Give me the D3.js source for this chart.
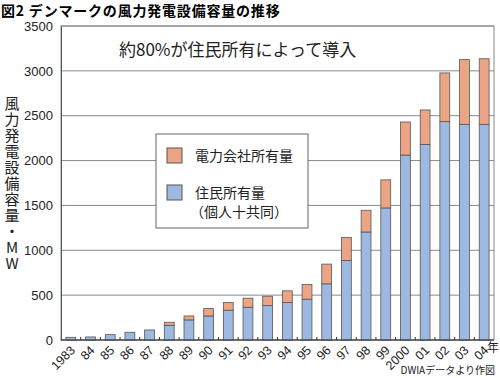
<!DOCTYPE html>
<html>
<head>
<meta charset="utf-8">
<title>デンマークの風力発電設備容量の推移</title>
<script src="https://d3js.org/d3.v7.min.js"></script>
<style>
  body { margin: 0; background: #fff; }
  text { font-family: "Liberation Sans", Arial, sans-serif; }
  .jp { font-family: "Noto Sans CJK JP", sans-serif; }
</style>
</head>
<body>
<div id="chart"></div>
<script>

// years and tick labels
const years = ["1983","84","85","86","87","88","89","90","91","92","93","94","95","96","97","98","99","2000","01","02","03","04"];
// citizen owned (individuals + cooperatives), MW
const citizen = [30,34,60,86,112,164,224,268,332,365,384,417,455,626,887,1204,1472,2061,2180,2434,2404,2404];
// total capacity, MW (utility share = total - citizen)
const total = [30,34,60,86,112,198,268,350,417,466,488,548,619,846,1144,1446,1785,2430,2564,2977,3125,3135];
const utility = total.map((t, i) => t - citizen[i]);
const yTicks = [0,500,1000,1500,2000,2500,3000,3500];

const colours = { citizen: "#9db9e1", utility: "#eba584" };

const W = 500, H = 378;
const margin = {top: 26, right: 6, bottom: 38, left: 61};
const width = W - margin.left - margin.right,
      height = H - margin.top - margin.bottom;

const svg = d3.select("#chart").append("svg")
  .attr("width", W).attr("height", H);

// title
svg.append("text").attr("class", "jp")
  .attr("x", 1).attr("y", 16)
  .attr("font-size", 14).attr("font-weight", "bold")
  .attr("letter-spacing", 0.8)
  .text("図2 デンマークの風力発電設備容量の推移");

const g = svg.append("g")
  .attr("transform", "translate(" + margin.left + "," + margin.top + ")");

const x = d3.scaleBand().domain(years).range([0, width]).paddingInner(0.5).paddingOuter(0.25);
const y = d3.scaleLinear().domain([0, 3500]).range([height, 0]);

// gridlines
g.selectAll(".grid").data(yTicks).enter().append("line")
  .attr("x1", 0).attr("x2", width)
  .attr("y1", d => y(d)).attr("y2", d => y(d))
  .attr("stroke", "#8a8a8a").attr("stroke-width", 1);

// frame
g.append("rect").attr("width", width).attr("height", height)
  .attr("fill", "none").attr("stroke", "#8a8a8a");

// y axis
const yAxis = g.append("g").call(d3.axisLeft(y).tickValues(yTicks)
  .tickFormat(d3.format("d")).tickSize(0).tickPadding(8));
yAxis.select(".domain").attr("stroke", "#555");
yAxis.selectAll("text").attr("font-size", 13).attr("fill", "#222")
  .style("font-family", "'Liberation Sans', Arial, sans-serif");

// stacked bars
const series = d3.stack().keys(["citizen", "utility"])(
  years.map((yr, i) => ({year: yr, citizen: citizen[i], utility: utility[i]})));

g.selectAll(".series").data(series).enter().append("g")
  .attr("fill", d => colours[d.key])
  .selectAll("rect").data(d => d).enter().append("rect")
    .attr("x", d => x(d.data.year))
    .attr("width", x.bandwidth())
    .attr("y", d => y(d[1]))
    .attr("height", d => y(d[0]) - y(d[1]))
    .attr("stroke", "#555").attr("stroke-width", 0.8);

// x axis
const step = x.step();
const xAxis = g.append("g").attr("transform", "translate(0," + height + ")");
xAxis.append("line").attr("x1", 0).attr("x2", width).attr("stroke", "#333");
xAxis.selectAll(".tk").data(years.slice(1)).enter().append("line")
  .attr("x1", d => x(d) - step * 0.25).attr("x2", d => x(d) - step * 0.25)
  .attr("y1", 0).attr("y2", -3).attr("stroke", "#333");
xAxis.selectAll(".lbl").data(years).enter().append("text")
  .attr("text-anchor", "end")
  .attr("font-size", 12.5).attr("fill", "#222")
  .attr("transform", d => "translate(" + (x(d) + x.bandwidth() / 2 + 5) + ",11) rotate(-45)")
  .text(d => d);

svg.append("text").attr("class", "jp")
  .attr("x", 487).attr("y", 352).attr("font-size", 12).attr("fill", "#222")
  .text("年");

// y axis title (vertical writing)
svg.append("text").attr("class", "jp")
  .attr("x", 12).attr("y", 96)
  .attr("font-size", 15).attr("fill", "#222")
  .style("writing-mode", "vertical-rl")
  .style("text-orientation", "upright")
  .attr("letter-spacing", 1)
  .text("風力発電設備容量・MW");

// annotation
svg.append("text").attr("class", "jp")
  .attr("x", 119).attr("y", 56).attr("font-size", 17).attr("fill", "#222")
  .text("約80%が住民所有によって導入");

// legend
const lg = svg.append("g");
lg.append("rect").attr("x", 156).attr("y", 134).attr("width", 152).attr("height", 94)
  .attr("fill", "#fff").attr("stroke", "#666");
lg.append("rect").attr("x", 167).attr("y", 148).attr("width", 15).attr("height", 15)
  .attr("fill", colours.utility).attr("stroke", "#555");
lg.append("rect").attr("x", 167).attr("y", 185).attr("width", 15).attr("height", 15)
  .attr("fill", colours.citizen).attr("stroke", "#555");
lg.append("text").attr("class", "jp").attr("x", 195).attr("y", 161)
  .attr("font-size", 14).attr("fill", "#222").text("電力会社所有量");
lg.append("text").attr("class", "jp").attr("x", 195).attr("y", 198)
  .attr("font-size", 14).attr("fill", "#222").text("住民所有量");
lg.append("text").attr("class", "jp").attr("x", 190).attr("y", 217)
  .attr("font-size", 14).attr("fill", "#222").text("（個人十共同）");

// source
svg.append("text").attr("class", "jp")
  .attr("x", 495).attr("y", 374).attr("text-anchor", "end")
  .attr("font-size", 10).attr("fill", "#222")
  .text("DWIAデータより作図");

</script>
</body>
</html>
